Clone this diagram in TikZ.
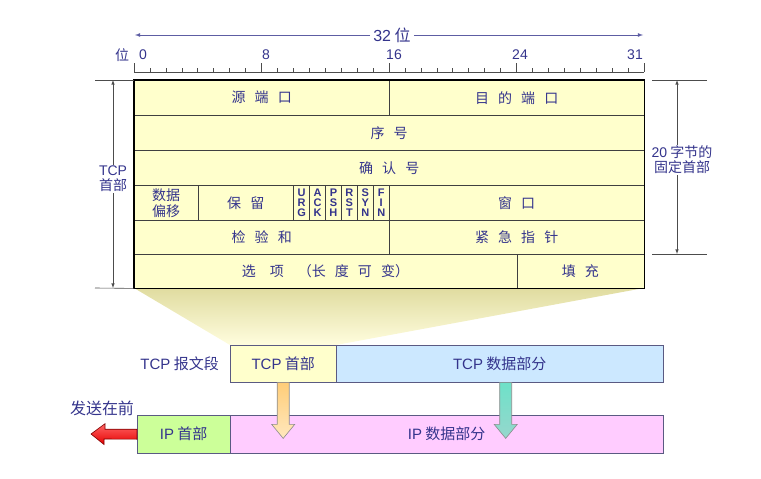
\documentclass[tikz,border=0pt]{standalone}
\usepackage{fontspec}
\setmainfont{Noto Sans CJK SC}
\newfontfamily\cellfont{Noto Sans CJK SC}[WordSpace=2.9]
\newfontfamily\flagfont{Liberation Sans}
\newcommand{\lat}[1]{{\flagfont #1}}
\usetikzlibrary{calc}
\definecolor{txtblue}{RGB}{52,52,140}
\definecolor{hdrfill}{RGB}{255,255,204}
\definecolor{datfill}{RGB}{204,232,255}
\definecolor{ipfill}{RGB}{204,255,153}
\definecolor{ipdfill}{RGB}{255,204,255}
\definecolor{boxline}{RGB}{90,90,130}
\tikzset{
  cell/.style={draw=black!75, fill=hdrfill, anchor=north west, inner sep=0pt,
    text=txtblue, font=\cellfont\fontsize{14}{17}\selectfont, align=center},
  flag/.style={cell, minimum width=15.94, minimum height=35,
    font=\flagfont\bfseries\fontsize{11}{10.4}\selectfont},
  seg/.style={draw=boxline, anchor=north west, inner sep=0pt, text=txtblue,
    font=\fontsize{15}{17}\selectfont},
  lbl/.style={text=txtblue, inner sep=1pt, font=\fontsize{14}{16}\selectfont, align=center},
  num/.style={lbl, font=\flagfont\fontsize{14}{16}\selectfont},
  dim/.style={black!70, line width=0.6pt},
  fat/.style={draw=black!45, line width=0.6pt}
}
\begin{document}
\begin{tikzpicture}[x=1pt,y=-1pt]
\useasboundingbox (0,0) rectangle (761,479);
% fan from table down to the tcp header
\shade[top color={rgb,255:red,224;green,220;blue,160}, bottom color={rgb,255:red,255;green,253;blue,222}]
  (134,288) -- (644,288) -- (336,345) -- (230,345) -- cycle;
% rows of the header
\node[cell, minimum width=255, minimum height=35] (src) at (134,80) {源 端 口};
\node[cell, minimum width=255, minimum height=35] (dst) at (389,80) {目 的 端 口};
\node[cell, minimum width=510, minimum height=35] (seq) at (134,115) {序 号};
\node[cell, minimum width=510, minimum height=35] (ack) at (134,150) {确 认 号};
\node[cell, minimum width=63.75, minimum height=35] (off) at (134,185) {数据\\[-1pt]偏移};
\node[cell, minimum width=95.63, minimum height=35] (rsv) at (197.75,185) {保 留};
\foreach \a/\b/\c [count=\i from 0] in {U/R/G,A/C/K,P/S/H,R/S/T,S/Y/N,F/I/N}
  \node[flag] (\a\b\c) at (293.38+\i*15.9375,185) {\a\\\b\\\c};
\node[cell, minimum width=255, minimum height=35] (win) at (389,185) {窗 口};
\node[cell, minimum width=255, minimum height=34] (chk) at (134,220) {检 验 和};
\node[cell, minimum width=255, minimum height=34] (urg) at (389,220) {紧 急 指 针};
\node[cell, minimum width=382.5, minimum height=34] (opt) at (134,254) {选\quad 项\quad （长 度 可 变）};
\node[cell, minimum width=127.5, minimum height=34] (pad) at (516.5,254) {填 充};
\draw[line width=1.6pt] (src.north west) rectangle (pad.south east);
% bit ruler
\draw[black!70, line width=0.7pt] (134,72) -- (644,72);
\foreach \k in {0,...,32}{
  \pgfmathsetmacro{\h}{ifthenelse(mod(\k,8)==0,9,4)}
  \draw[black!70, line width=0.6pt] (134+\k*15.9375,72) -- ++(0,-\h);
}
\node[num] (b0) at (143,55) {0};
\node[num] (b8) at (266,55) {8};
\node[num] (b16) at (394,55) {16};
\node[num] (b24) at (520,55) {24};
\node[num] (b31) at (635,55) {31};
\node[lbl] (wei) at (122,55) {位};
\node[lbl, fill=white, inner sep=3pt, font=\fontsize{16}{18}\selectfont] (w32) at (392,35) {\lat{32} 位};
\draw[txtblue!80, line width=0.8pt, -latex] (w32.west) -- (135,35);
\draw[txtblue!80, line width=0.8pt, -latex] (w32.east) -- (643,35);
% left dimension
\coordinate (lt) at (113,80);
\coordinate (lb) at (113,288);
\draw[dim] (95,80) -- (src.north west);
\draw[dim] (95,288) -- (opt.south west);
\node[lbl] (tcplen) at (113,179) {\lat{TCP}\\[-1pt]首部};
\draw[dim, -latex] (tcplen.north) -- (lt);
\draw[dim, -latex] (tcplen.south) -- (lb);
% right dimension
\coordinate (rt) at (677,80);
\coordinate (rb) at (677,254);
\draw[dim] (652,80) -- (707,80);
\draw[dim] (652,254) -- (707,254);
\node[lbl, fill=white] (fixlen) at (682,160) {\lat{20} 字节的\\[-1pt]固定首部};
\draw[dim, -latex] (fixlen.north -| rt) -- (rt);
\draw[dim, -latex] (fixlen.south -| rb) -- (rb);
% tcp segment and ip datagram
\node[seg, fill=hdrfill, minimum width=106, minimum height=37] (tcph) at (230,345) {\lat{TCP} 首部};
\node[seg, fill=datfill, minimum width=327, minimum height=37] (tcpd) at (336,345) {\lat{TCP} 数据部分};
\node[lbl, anchor=east, font=\fontsize{15}{17}\selectfont] (seglbl) at (220,364) {\lat{TCP} 报文段};
\node[seg, fill=ipfill, minimum width=93, minimum height=38] (iph) at (137,415) {\lat{IP} 首部};
\node[seg, fill=ipdfill, minimum width=433, minimum height=38] (ipd) at (230,415) {\lat{IP} 数据部分};
\node[lbl, font=\fontsize{16}{18}\selectfont] (first) at (102,408) {发送在前};
% fat arrows
\shade[fat, top color={rgb,255:red,255;green,205;blue,120}, bottom color={rgb,255:red,255;green,232;blue,190}]
  ($(tcph.south)+(-6,0)$) -- ++(12,0) -- ++(0,42) -- ++(5.5,0) -- ($(tcph.south)+(0,56)$)
  -- ++(-11.5,-14) -- ++(5.5,0) -- cycle;
\shade[fat, top color={rgb,255:red,110;green,225;blue,200}, bottom color={rgb,255:red,150;green,215;blue,205}]
  ($(tcpd.south)+(0,0)$) -- ++(12,0) -- ++(0,42) -- ++(5.5,0) -- ($(tcpd.south)+(6,56)$)
  -- ++(-11.5,-14) -- ++(5.5,0) -- cycle;
\coordinate (out) at (91,434);
\shade[draw=red!50!black, line width=0.6pt, top color=red!60, bottom color=red!90!black]
  ($(iph.west)+(0,-5)$) -- ++(-32,0) -- ++(0,-5.5) -- (out) -- ++(13,10.5)
  -- ++(0,-5.5) -- ($(iph.west)+(0,5)$) -- cycle;
\end{tikzpicture}
\end{document}
